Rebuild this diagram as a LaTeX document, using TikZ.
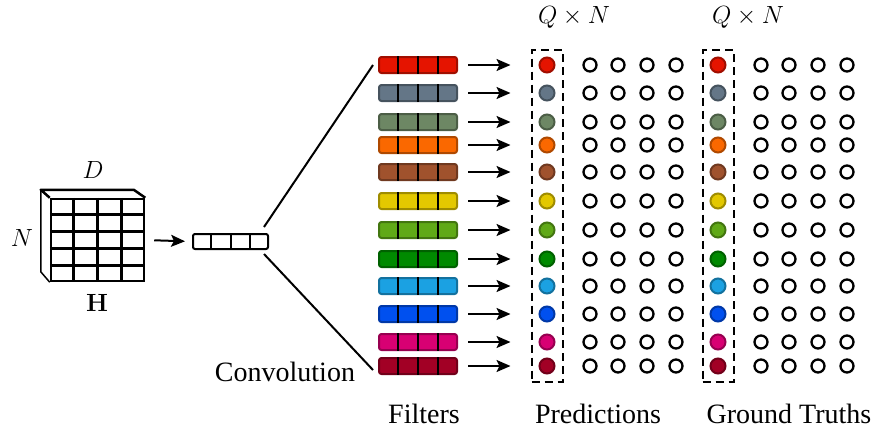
\documentclass[tikz,border=0pt]{standalone}
\usepackage[no-math]{fontspec}
\setmainfont{Liberation Serif}
\usetikzlibrary{arrows.meta,calc,fit}

\definecolor{cRed}{HTML}{E51400}
\definecolor{cSlate}{HTML}{647687}
\definecolor{cOlive}{HTML}{6D8764}
\definecolor{cOrange}{HTML}{FA6800}
\definecolor{cBrown}{HTML}{A0522D}
\definecolor{cYellow}{HTML}{E3C800}
\definecolor{cLime}{HTML}{60A917}
\definecolor{cGreen}{HTML}{008A00}
\definecolor{cCyan}{HTML}{1BA1E2}
\definecolor{cBlue}{HTML}{0050EF}
\definecolor{cMagenta}{HTML}{D80073}
\definecolor{cCrimson}{HTML}{A20025}

\tikzset{
  txt/.style={font=\fontsize{28}{32}\selectfont, inner sep=0},
  mth/.style={font=\fontsize{24}{28}\selectfont, inner sep=0},
  cube/.style={draw, line width=2.5pt, minimum width=93pt, minimum height=82pt, inner sep=0},
  vec/.style={draw, line width=2pt, rounded corners=2pt, minimum width=75pt, minimum height=15pt, inner sep=0},
  filter/.style={draw=#1!70!black, fill=#1, line width=2pt, rounded corners=2.5pt,
    minimum width=78pt, minimum height=16pt, inner sep=0},
  dot/.style={circle, draw=#1!70!black, fill=#1, line width=2pt, minimum size=15pt, inner sep=0},
  hollow/.style={circle, draw, line width=2.3pt, minimum size=13pt, inner sep=0},
  dbox/.style={draw, dash pattern=on 8pt off 5pt, line width=2pt, inner sep=7pt},
  arr/.style={line width=2pt, -{Stealth[length=14pt, width=12pt, inset=3pt]}},
  conv/.style={line width=2pt}
}

\begin{document}
\begin{tikzpicture}[x=1pt, y=-1pt]
\useasboundingbox (0,0) rectangle (874,437);

% input tensor H
\node[cube] (H) at (97.5,240) {};
\foreach \k in {1,2,3}
  \draw[line width=2.5pt] ($(H.north west)!\k/4!(H.north east)$) -- ($(H.south west)!\k/4!(H.south east)$);
\foreach \k in {1,...,4}
  \draw[line width=2.5pt] ($(H.north west)!\k/5!(H.south west)$) -- ($(H.north east)!\k/5!(H.south east)$);
\draw[line width=2.5pt, line join=round] (H.north west) -- ++(-9,-8) -- ++(93,0) -- (H.north east);
\draw[line width=1.5pt, line join=round] (H.north west) ++(-9,-8) -- ++(0,82) -- (H.south west);
\node[mth, font=\fontsize{28}{32}\selectfont] (labD) at (93,170) {$D$};
\node[mth, font=\fontsize{28}{32}\selectfont] (labN) at (22,238) {$N$};
\node[mth, font=\fontsize{28}{32}\selectfont] (labH) at (97,303) {$\mathbf{H}$};

% pooled vector
\node[vec] (v) at (230.5,241.5) {};
\foreach \k in {1,2,3}
  \draw[line width=2pt] ($(v.north west)!\k/4!(v.north east)$) -- ($(v.south west)!\k/4!(v.south east)$);
\draw[arr, shorten <=9pt, shorten >=7pt] (H.east) -- (v.west);

% filters, predictions and ground truths
\foreach \c/\y [count=\i] in {cRed/65, cSlate/93, cOlive/122, cOrange/145, cBrown/172, cYellow/201,
    cLime/230, cGreen/259, cCyan/286, cBlue/314, cMagenta/342, cCrimson/366} {
  \node[filter=\c] (f\i) at (418,\y) {};
  \foreach \k in {1,2,3}
    \draw[line width=1.6pt] ($(f\i.north west)!\k/4!(f\i.north east)$) -- ($(f\i.south west)!\k/4!(f\i.south east)$);
  \node[dot=\c] (p\i) at (547,\y) {};
  \node[dot=\c] (g\i) at (718,\y) {};
  \foreach \x [count=\j] in {590,618,647,676}
    \node[hollow] (p\i-\j) at (\x,\y) {};
  \foreach \x [count=\j] in {761,789,818,847}
    \node[hollow] (g\i-\j) at (\x,\y) {};
  \draw[arr, shorten <=10pt, shorten >=28pt] (f\i) -- (p\i);
}

\node[dbox, fit=(p1)(p12)] (pbox) {};
\node[dbox, fit=(g1)(g12)] (gbox) {};

% convolution fan
\draw[conv] ([shift={(-5,-6)}]v.north east) -- ([xshift=-5pt]f1.west);
\draw[conv] ([shift={(-5,4)}]v.south east) -- ([shift={(-5,4)}]f12.west);

% labels
\node[mth] (qp) at (574,17) {$Q\times N$};
\node[mth] (qg) at (748,17) {$Q\times N$};
\node[txt] (lconv) at (285,372) {Convolution};
\node[txt] (lfil) at (424,414) {Filters};
\node[txt] (lpred) at (598,414) {Predictions};
\node[txt] (lgt) at (789,414) {Ground Truths};
\end{tikzpicture}
\end{document}
